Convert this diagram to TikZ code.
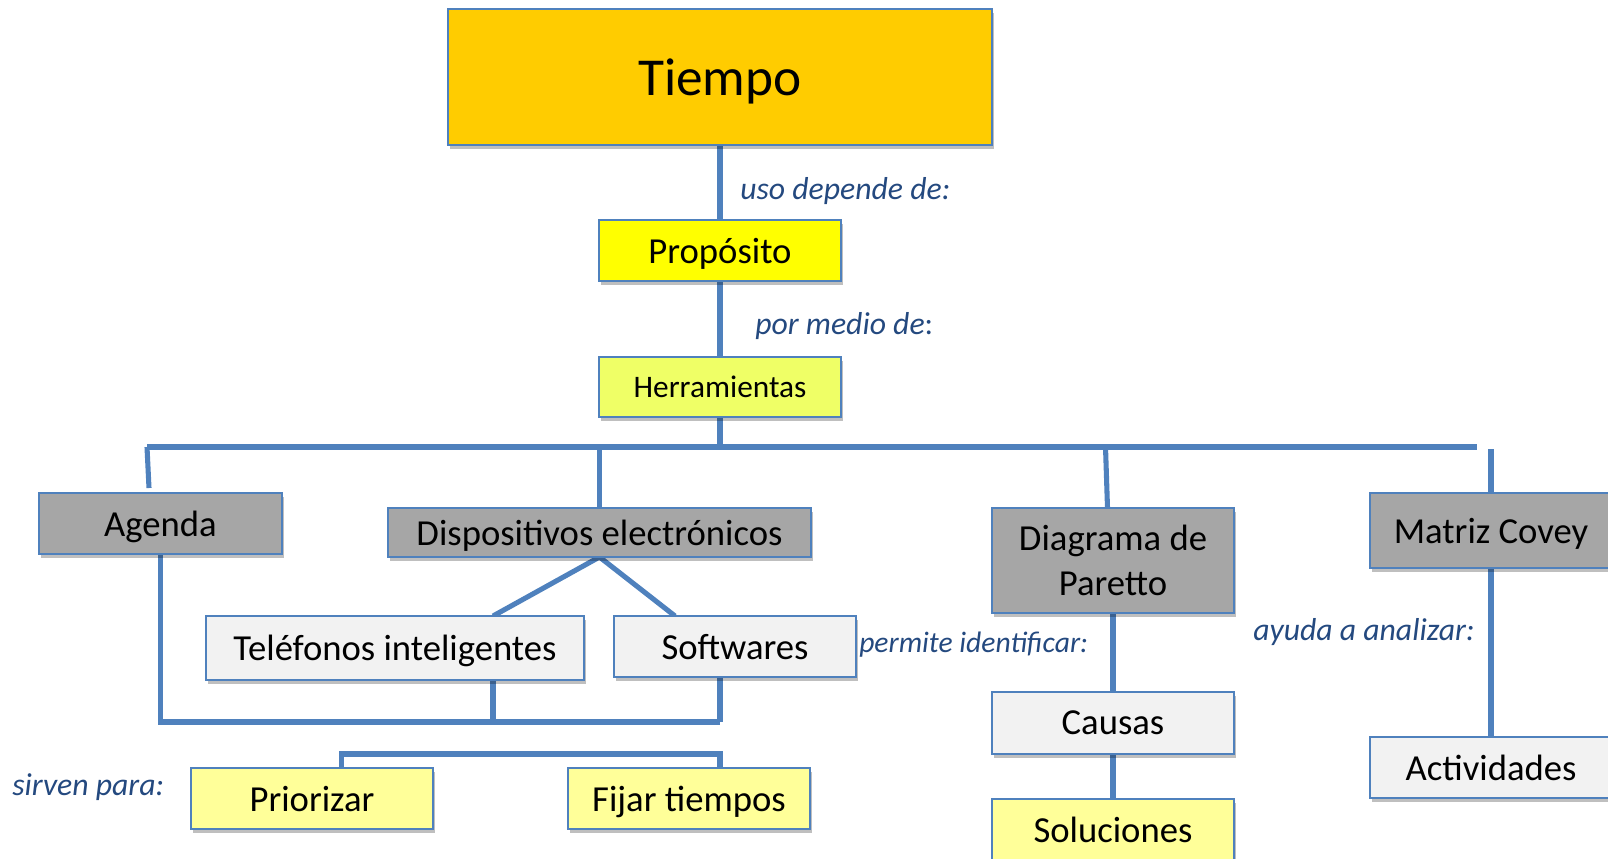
\documentclass[tikz,border=0pt]{standalone}
\usepackage{fontspec}
\setmainfont{Carlito}
\usetikzlibrary{shadows,calc}
\definecolor{bord}{HTML}{4F81BD}
\definecolor{lab}{HTML}{24497F}
\definecolor{cTiempo}{HTML}{FFCC00}
\definecolor{cProp}{HTML}{FFFF00}
\definecolor{cHerr}{HTML}{EFFF66}
\definecolor{cGray}{HTML}{A6A6A6}
\definecolor{cLight}{HTML}{F2F2F2}
\definecolor{cPale}{HTML}{FFFF99}
\tikzset{
  box/.style={draw=bord, line width=1.5pt, inner sep=0pt, align=center, text depth=0pt,
    font=\fontsize{27.5}{33.75}\selectfont,
    drop shadow={shadow xshift=1.5pt, shadow yshift=-3pt, opacity=0.25, fill=black}},
  conn/.style={draw=bord, line width=3.8pt},
  lbl/.style={anchor=west, inner sep=0pt, text=lab, font=\fontsize{23.8}{28}\selectfont\itshape}
}
\begin{document}
\begin{tikzpicture}[x=0.75pt, y=-0.75pt]
\useasboundingbox (0,0) rectangle (1608,858);
% coordinates for connectors
\coordinate (busL) at (147,447);
\coordinate (busR) at (1477,447);
\coordinate (agTop) at (149,488);
\coordinate (diagBus) at (1105.5,447);
\coordinate (diagTop) at (1107.5,508);
\coordinate (telT) at (493,616);
\coordinate (softT) at (675,616);
\coordinate (telB) at (493,680);
\coordinate (softB) at (720,677);
\coordinate (br1R) at (720,722);
\coordinate (br2L) at (341.5,754);
\coordinate (br2R) at (720,754);
\coordinate (prioT) at (341.5,768);
\coordinate (fijT) at (720,768);

% connectors (drawn first, boxes over them)
\draw[conn] (720,145) -- (720,220);
\draw[conn] (720,281) -- (720,357);
\draw[conn] (720,417) -- (720,447);
\draw[conn] (busL) -- (busR);
\draw[conn] (busL) -- (agTop);
\draw[conn] (599.5,447) -- (599.5,508);
\draw[conn] (diagBus) -- (diagTop);
\draw[conn] (1491,449) -- (1491,493);
\draw[conn] (599.5,557) -- (telT);
\draw[conn] (599.5,557) -- (softT);
\draw[conn] (160.5,554) -- (160.5,722) -- (br1R);
\draw[conn] (telB) -- (493,722);
\draw[conn] (softB) -- (br1R);
\draw[conn] (prioT) -- (br2L) -- (br2R) -- (fijT);
\draw[conn] (1113,613) -- (1113,692);
\draw[conn] (1113,754) -- (1113,799);
\draw[conn] (1491,568) -- (1491,737);

% boxes
\node[box, fill=cTiempo, minimum width=408pt, minimum height=102pt, font=\fontsize{40}{48}\selectfont] (tiempo) at (720,77) {Tiempo};
\node[box, fill=cProp, minimum width=181.5pt, minimum height=45.75pt] (prop) at (720,250.5) {Propósito};
\node[box, fill=cHerr, minimum width=181.5pt, minimum height=45pt, font=\fontsize{23.5}{28}\selectfont] (herr) at (720,387) {Herramientas};
\node[box, fill=cGray, minimum width=182.25pt, minimum height=45.75pt] (agenda) at (160.5,523.5) {Agenda};
\node[box, fill=cGray, minimum width=317.25pt, minimum height=36.75pt] (disp) at (599.5,532.5) {Dispositivos electrónicos};
\node[box, fill=cGray, minimum width=181.5pt, minimum height=78.75pt, text depth=] (diag) at (1113,560.5) {Diagrama de\\Paretto};
\node[box, fill=cGray, minimum width=181.5pt, minimum height=56.25pt] (matriz) at (1491,530.5) {Matriz Covey};
\node[box, fill=cLight, minimum width=283.5pt, minimum height=48pt] (tel) at (395,648) {Teléfonos inteligentes};
\node[box, fill=cLight, minimum width=181.5pt, minimum height=45.75pt] (soft) at (735,646.5) {Softwares};
\node[box, fill=cPale, minimum width=181.5pt, minimum height=45.75pt] (prio) at (312,798.5) {Priorizar};
\node[box, fill=cPale, minimum width=181.5pt, minimum height=45.75pt] (fijar) at (689,798.5) {Fijar tiempos};
\node[box, fill=cLight, minimum width=181.5pt, minimum height=46.5pt] (causas) at (1113,723) {Causas};
\node[box, fill=cPale, minimum width=181.5pt, minimum height=45.75pt] (sol) at (1113,829.5) {Soluciones};
\node[box, fill=cLight, minimum width=181.5pt, minimum height=45.75pt] (activ) at (1491,767.5) {Actividades};

% labels
\node[lbl] (l1) at (740,191) {uso depende de:};
\node[lbl] (l2) at (755,326) {por medio de\upshape:};
\node[lbl] (l3) at (12,787) {sirven para:};
\node[lbl, font=\fontsize{22.2}{26}\selectfont\itshape] (l4) at (859,645) {permite identificar:};
\node[lbl] (l5) at (1253,632) {ayuda a analizar:};
\end{tikzpicture}
\end{document}
